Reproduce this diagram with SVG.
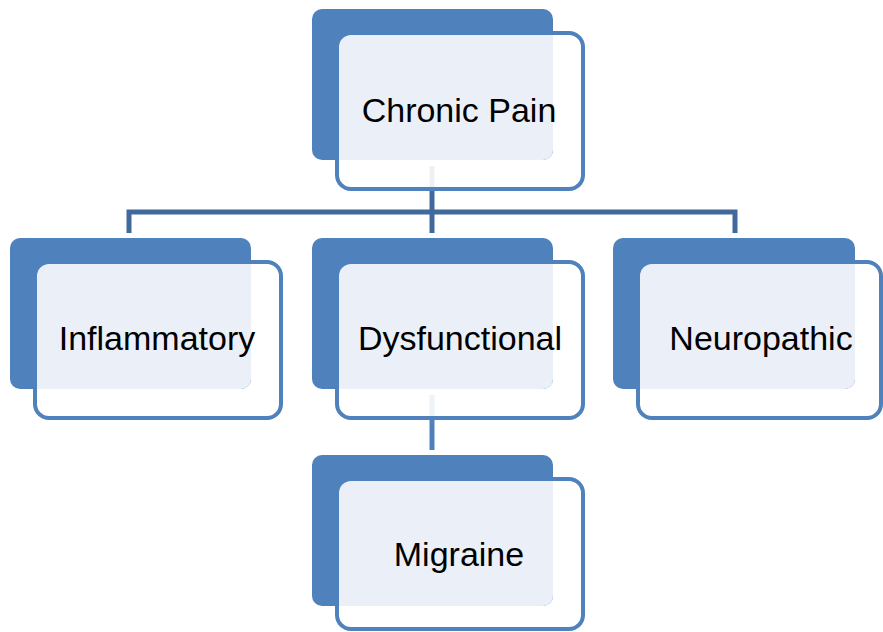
<svg xmlns="http://www.w3.org/2000/svg" width="883" height="632" viewBox="0 0 883 632">
<style>
.back{fill:#4F81BD}
.frame{fill:#FFFFFF;fill-opacity:0.9;stroke:#4F81BD;stroke-width:4}
.face{fill:#EBF0F8}
.lbl{font-family:"Liberation Sans",Arial,sans-serif;font-size:34px;fill:#000;text-anchor:middle}
.conn{fill:none;stroke:#41699C;stroke-width:5}
.conn2{fill:none;stroke:#4F80BB;stroke-width:5}
</style>
<rect width="883" height="632" fill="#FFFFFF"/>
<g id="connectors">
<path class="conn" d="M129 233 V212 H735 V233"/>
<path class="conn" d="M432 166 V233"/>
<path class="conn2" d="M432 395 V450"/>
</g>
<g id="chronic-pain">
<rect class="frame" x="337" y="33" width="246" height="156" rx="14"/>
<rect class="back" x="312" y="9" width="241" height="151" rx="10"/>
<path class="face" d="M339 47 A12 12 0 0 1 351 35 H553 V150 A10 10 0 0 1 543 160 H339 Z"/>
<text class="lbl" x="459" y="122">Chronic Pain</text>
</g>
<g id="inflammatory">
<rect class="frame" x="35" y="262" width="246" height="156" rx="14"/>
<rect class="back" x="10" y="238" width="241" height="151" rx="10"/>
<path class="face" d="M37 276 A12 12 0 0 1 49 264 H251 V379 A10 10 0 0 1 241 389 H37 Z"/>
<text class="lbl" x="157" y="350">Inflammatory</text>
</g>
<g id="dysfunctional">
<rect class="frame" x="337" y="262" width="246" height="156" rx="14"/>
<rect class="back" x="312" y="238" width="241" height="151" rx="10"/>
<path class="face" d="M339 276 A12 12 0 0 1 351 264 H553 V379 A10 10 0 0 1 543 389 H339 Z"/>
<text class="lbl" x="460" y="350">Dysfunctional</text>
</g>
<g id="neuropathic">
<rect class="frame" x="638" y="262" width="243" height="156" rx="14"/>
<rect class="back" x="613" y="238" width="242" height="151" rx="10"/>
<path class="face" d="M640 276 A12 12 0 0 1 652 264 H855 V379 A10 10 0 0 1 845 389 H640 Z"/>
<text class="lbl" x="761" y="350">Neuropathic</text>
</g>
<g id="migraine">
<rect class="frame" x="337" y="479" width="246" height="150" rx="14"/>
<rect class="back" x="312" y="455" width="241" height="151" rx="10"/>
<path class="face" d="M339 493 A12 12 0 0 1 351 481 H553 V596 A10 10 0 0 1 543 606 H339 Z"/>
<text class="lbl" x="459" y="566">Migraine</text>
</g>
</svg>
